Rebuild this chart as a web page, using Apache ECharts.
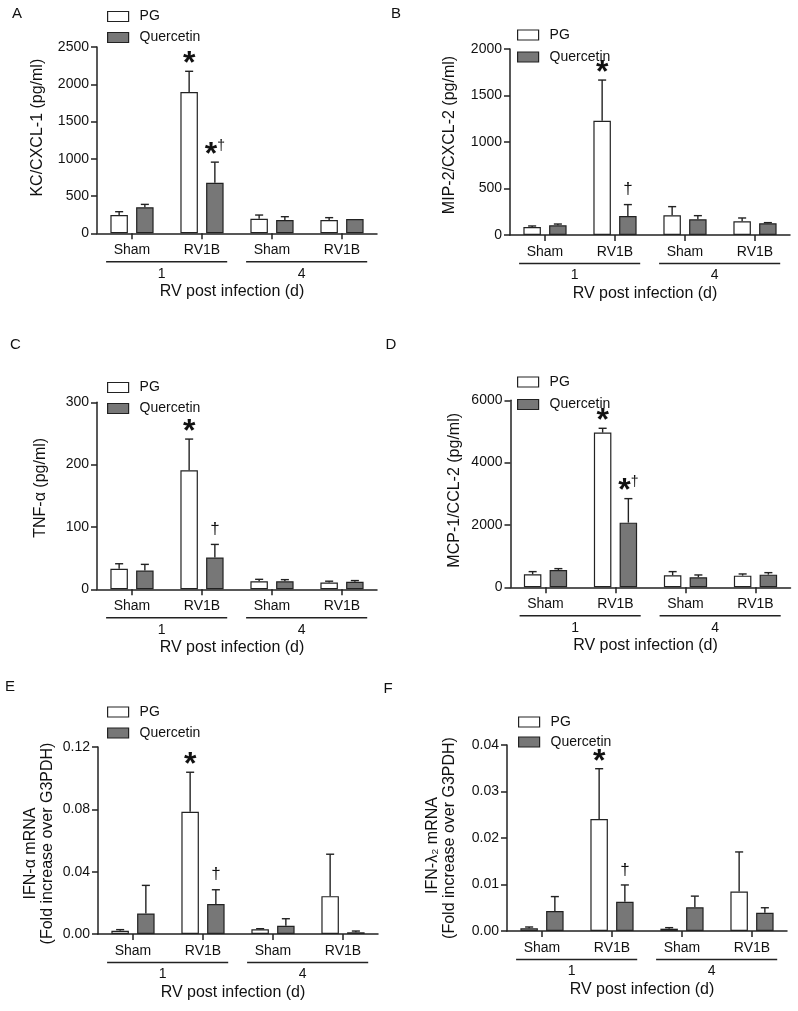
<!DOCTYPE html>
<html><head><meta charset="utf-8">
<script src="https://cdn.jsdelivr.net/npm/echarts@6/dist/echarts.min.js"></script>
<style>html,body{margin:0;padding:0;background:#fff}#c{width:798px;height:1011px}</style>
</head><body><div id="c"></div>
<script>
// ---------- data ----------
const categories = ['Sham', 'RV1B', 'Sham', 'RV1B'];
const dayLabels = ['1', '4'];
const dayGroups = [[0, 1], [2, 3]];
const xTitle = 'RV post infection (d)';

// A: KC/CXCL-1
const kcPG = [245, 1897, 196, 179];
const kcPGErr = [290, 2174, 245, 210];
const kcQ = [350, 679, 179, 192];
const kcQErr = [388, 955, 223, 192];
const kcPGMark = ['', '*', '', ''];
const kcQMark = ['', '*†', '', ''];

// B: MIP-2/CXCL-2
const mipPG = [86, 1228, 212, 147];
const mipPGErr = [97, 1666, 305, 183];
const mipQ = [104, 205, 169, 126];
const mipQErr = [118, 327, 208, 133];
const mipPGMark = ['', '*', '', ''];
const mipQMark = ['', '†', '', ''];

// C: TNF-alpha
const tnfPG = [33, 191, 13, 11];
const tnfPGErr = [41, 241, 16, 13];
const tnfQ = [30, 51, 13, 12];
const tnfQErr = [40, 72, 15.5, 14];
const tnfPGMark = ['', '*', '', ''];
const tnfQMark = ['', '†', '', ''];

// D: MCP-1/CCL-2
const mcpPG = [417, 4963, 385, 374];
const mcpPGErr = [503, 5102, 503, 428];
const mcpQ = [556, 2075, 321, 406];
const mcpQErr = [599, 2845, 396, 470];
const mcpPGMark = ['', '*', '', ''];
const mcpQMark = ['', '*†', '', ''];

// E: IFN-alpha mRNA
const ifnaPG = [0.0021, 0.0784, 0.0030, 0.0243];
const ifnaPGErr = [0.0028, 0.1038, 0.0034, 0.0512];
const ifnaQ = [0.0132, 0.0192, 0.0053, 0.0011];
const ifnaQErr = [0.0312, 0.0284, 0.0098, 0.0019];
const ifnaPGMark = ['', '*', '', ''];
const ifnaQMark = ['', '†', '', ''];

// F: IFN-lambda2 mRNA
const ifnlPG = [0.00057, 0.0241, 0.0005, 0.0085];
const ifnlPGErr = [0.00086, 0.0349, 0.00072, 0.0170];
const ifnlQ = [0.0043, 0.0063, 0.0051, 0.0039];
const ifnlQErr = [0.0074, 0.0099, 0.0075, 0.0050];
const ifnlPGMark = ['', '*', '', ''];
const ifnlQMark = ['', '†', '', ''];

const panels = [
  {letter: 'A', yName: 'KC/CXCL-1 (pg/ml)', max: 2500, interval: 500, dec: 0,
   pg: kcPG, pgErr: kcPGErr, q: kcQ, qErr: kcQErr, pgMark: kcPGMark, qMark: kcQMark},
  {letter: 'B', yName: 'MIP-2/CXCL-2 (pg/ml)', max: 2000, interval: 500, dec: 0,
   pg: mipPG, pgErr: mipPGErr, q: mipQ, qErr: mipQErr, pgMark: mipPGMark, qMark: mipQMark},
  {letter: 'C', yName: 'TNF-α (pg/ml)', max: 300, interval: 100, dec: 0,
   pg: tnfPG, pgErr: tnfPGErr, q: tnfQ, qErr: tnfQErr, pgMark: tnfPGMark, qMark: tnfQMark},
  {letter: 'D', yName: 'MCP-1/CCL-2 (pg/ml)', max: 6000, interval: 2000, dec: 0,
   pg: mcpPG, pgErr: mcpPGErr, q: mcpQ, qErr: mcpQErr, pgMark: mcpPGMark, qMark: mcpQMark},
  {letter: 'E', yName: '{l1|IFN-α mRNA}\n{l2|(Fold increase over G3PDH)}', max: 0.12, interval: 0.04, dec: 2,
   pg: ifnaPG, pgErr: ifnaPGErr, q: ifnaQ, qErr: ifnaQErr, pgMark: ifnaPGMark, qMark: ifnaQMark},
  {letter: 'F', yName: '{l1|IFN-λ₂ mRNA}\n{l2|(Fold increase over G3PDH)}', max: 0.04, interval: 0.01, dec: 2,
   pg: ifnlPG, pgErr: ifnlPGErr, q: ifnlQ, qErr: ifnlQErr, pgMark: ifnlPGMark, qMark: ifnlQMark}
];

// ---------- layout / style ----------
const layout = [
  {left: 97,  top: 47,    height: 186.3, lgLeft: 107, lgTop: 9.5, lgGap: 7,   lx: 17,  ly: 14,  yGap: 51,   yPad: [0, 0, 0, 25], l1Pad: [0, 0, 0, 0]},
  {left: 510, top: 49,    height: 186,   lgLeft: 517, lgTop: 28,  lgGap: 8,   lx: 396, ly: 14,  yGap: 52,   yPad: [0, 0, 0, 14], l1Pad: [0, 0, 0, 0]},
  {left: 97,  top: 402.3, height: 187,   lgLeft: 107, lgTop: 380.5, lgGap: 7, lx: 15.5, ly: 345, yGap: 48, yPad: [0, 0, 0, 16], l1Pad: [0, 0, 0, 0]},
  {left: 510.5, top: 400.3, height: 187, lgLeft: 517, lgTop: 375, lgGap: 8.5, lx: 391, ly: 345, yGap: 47.5, yPad: [0, 0, 0, 7], l1Pad: [0, 0, 0, 0]},
  {left: 98,  top: 747,   height: 187,   lgLeft: 107, lgTop: 705, lgGap: 7,   lx: 10,  ly: 687, yGap: 42,   yPad: [0, 6, 0, 0], l1Pad: [0, 20, 0, 0]},
  {left: 507, top: 745,   height: 186,   lgLeft: 518, lgTop: 715, lgGap: 6,   lx: 388, ly: 689, yGap: 48.5, yPad: [0, 0, 0, 0], l1Pad: [0, 15, 0, 0]}
];
const PLOT_W = 280;
const FONT = '"Liberation Sans", Arial, Helvetica, sans-serif';
const INK = '#111111';
const LINE = '#222222';
const Q_FILL = '#777777';
const AXIS_W = 1.5;
const BAR_FRAC = 0.25, BAR_GAP = 0.47, CAP_FRAC = 0.46;

function errRenderer(sign, marks) {
  return function (params, api) {
    const ci = api.value(0), v = api.value(1), e = api.value(2);
    const band = api.size([1, 0])[0];
    const w = band * BAR_FRAC;
    const off = sign * (w + w * BAR_GAP) / 2;
    const base = api.coord([ci, v]);
    const top = api.coord([ci, e]);
    const x = base[0] + off;
    const cap = w * CAP_FRAC;
    const children = [];
    if (top[1] < base[1] - 0.5) {
      children.push({type: 'line', shape: {x1: x, y1: base[1], x2: x, y2: top[1]},
        style: {stroke: LINE, lineWidth: 1.4}});
      children.push({type: 'line', shape: {x1: x - cap / 2, y1: top[1], x2: x + cap / 2, y2: top[1]},
        style: {stroke: LINE, lineWidth: 1.4}});
    }
    const m = marks[params.dataIndex];
    if (m) {
      const hasStar = m.indexOf('*') >= 0;
      let txt = '';
      if (hasStar) txt += '{s|*}';
      if (m.indexOf('†') >= 0) txt += hasStar ? '{ds|†}' : '{d|†}';
      children.push({type: 'text', x: x, y: top[1] - (hasStar ? 7 : 15),
        style: {text: txt, align: 'center', verticalAlign: 'middle',
          rich: {
            s: {fontFamily: FONT, fontWeight: 'bold', fontSize: 32, fill: INK},
            d: {fontFamily: FONT, fontSize: 17, fill: INK},
            ds: {fontFamily: FONT, fontSize: 14, fill: INK, verticalAlign: 'top'}
          }}});
    }
    return {type: 'group', children: children};
  };
}

function bracketRenderer(params, api) {
  const g = dayGroups[params.dataIndex];
  const p0 = api.coord([g[0], 0]);
  const p1 = api.coord([g[1], 0]);
  const band = api.size([1, 0])[0];
  const y = p0[1] + 28.5;
  const xl = p0[0] - band * 0.37, xr = p1[0] + band * 0.36;
  return {type: 'group', children: [
    {type: 'line', shape: {x1: xl, y1: y, x2: xr, y2: y}, style: {stroke: LINE, lineWidth: 1.6}},
    {type: 'text', x: (xl + xr) / 2 - band * 0.07, y: p0[1] + 40.5,
      style: {text: dayLabels[params.dataIndex], align: 'center', verticalAlign: 'middle',
        fontFamily: FONT, fontSize: 14, fill: INK}}
  ]};
}

const grid = [], xAxis = [], yAxis = [], series = [], legend = [], graphic = [];
panels.forEach(function (p, i) {
  const L = layout[i];
  grid.push({left: L.left, top: L.top, width: PLOT_W, height: L.height, containLabel: false, outerBoundsMode: 'none'});
  xAxis.push({
    gridIndex: i, type: 'category', data: categories,
    axisLine: {show: true, lineStyle: {color: LINE, width: AXIS_W}},
    axisTick: {show: true, alignWithLabel: true, length: 6, lineStyle: {color: LINE, width: AXIS_W}},
    axisLabel: {interval: 0, fontSize: 14, fontFamily: FONT, color: INK, margin: 10},
    splitLine: {show: false},
    name: xTitle, nameLocation: 'middle', nameGap: 50.5,
    nameTextStyle: {fontSize: 16, fontFamily: FONT, color: INK, padding: [0, 10, 0, 0]}
  });
  yAxis.push({
    gridIndex: i, type: 'value', min: 0, max: p.max, interval: p.interval,
    axisLine: {show: true, lineStyle: {color: LINE, width: AXIS_W}},
    axisTick: {show: true, length: 6, lineStyle: {color: LINE, width: AXIS_W}},
    axisLabel: {fontSize: 14, fontFamily: FONT, color: INK, margin: 8,
      formatter: (function (d) { return function (v) { return v.toFixed(d); }; })(p.dec)},
    splitLine: {show: false},
    name: p.yName, nameLocation: 'middle', nameGap: L.yGap,
    nameTextStyle: {fontSize: 16, fontFamily: FONT, color: INK, lineHeight: 17, padding: L.yPad,
      rich: {
        l1: {fontSize: 16, fontFamily: FONT, color: INK, lineHeight: 17, padding: L.l1Pad},
        l2: {fontSize: 16, fontFamily: FONT, color: INK, lineHeight: 17}
      }}
  });
  series.push({type: 'bar', name: 'PG', xAxisIndex: i, yAxisIndex: i, data: p.pg,
    barWidth: '25%', barGap: '47%', silent: true,
    itemStyle: {color: '#ffffff', borderColor: LINE, borderWidth: 1.2}});
  series.push({type: 'bar', name: 'Quercetin', xAxisIndex: i, yAxisIndex: i, data: p.q,
    barWidth: '25%', barGap: '47%', silent: true,
    itemStyle: {color: Q_FILL, borderColor: LINE, borderWidth: 1.2}});
  series.push({type: 'custom', xAxisIndex: i, yAxisIndex: i, silent: true, z: 5,
    data: p.pg.map(function (v, k) { return [k, v, p.pgErr[k]]; }),
    renderItem: errRenderer(-1, p.pgMark)});
  series.push({type: 'custom', xAxisIndex: i, yAxisIndex: i, silent: true, z: 5,
    data: p.q.map(function (v, k) { return [k, v, p.qErr[k]]; }),
    renderItem: errRenderer(1, p.qMark)});
  series.push({type: 'custom', xAxisIndex: i, yAxisIndex: i, silent: true, z: 5,
    data: dayGroups.map(function (g) { return [g[0], 0]; }),
    renderItem: bracketRenderer});
  legend.push({orient: 'vertical', left: L.lgLeft, top: L.lgTop, padding: 0, itemGap: L.lgGap,
    itemWidth: 21, itemHeight: 10, icon: 'rect', selectedMode: false, data: ['PG', 'Quercetin'],
    itemStyle: {borderColor: LINE, borderWidth: 1.2},
    textStyle: {fontSize: 14, fontFamily: FONT, color: INK, padding: [0, 0, 0, 6]}});
  graphic.push({type: 'text', x: L.lx, y: L.ly,
    style: {text: p.letter, align: 'center', verticalAlign: 'middle', fontFamily: FONT, fontSize: 15, fill: INK}});
});

const chart = echarts.init(document.getElementById('c'), null, {renderer: 'canvas'});
chart.setOption({
  animation: false,
  backgroundColor: '#ffffff',
  textStyle: {fontFamily: FONT},
  grid: grid, xAxis: xAxis, yAxis: yAxis, series: series, legend: legend, graphic: graphic
});
</script>
</body></html>
